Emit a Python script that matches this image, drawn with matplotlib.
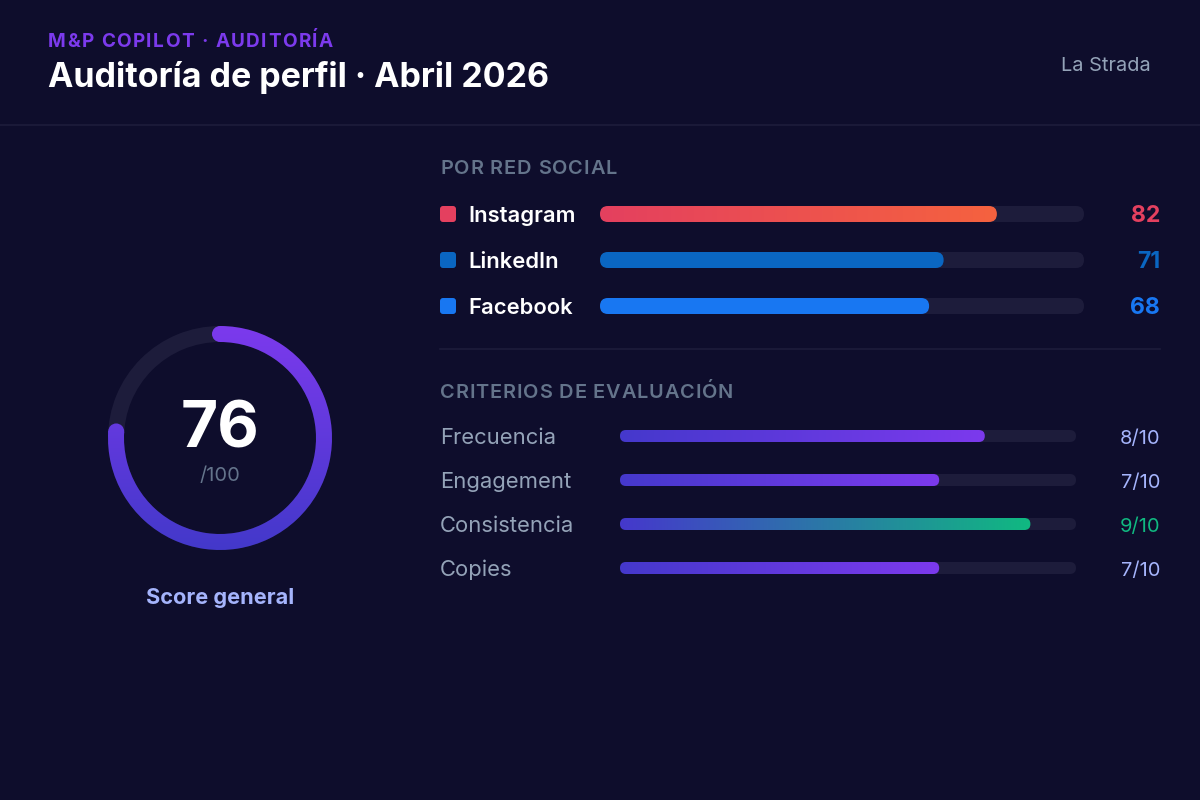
import numpy as np
import matplotlib
matplotlib.use("Agg")
import matplotlib.pyplot as plt
from matplotlib.patches import FancyBboxPatch, Wedge, Circle
from matplotlib.colors import LinearSegmentedColormap
from matplotlib.font_manager import FontProperties

# ---- data ----
score = 76
score_max = 100
networks = ["Instagram", "LinkedIn", "Facebook"]
network_scores = [82, 71, 68]
criteria = ["Frecuencia", "Engagement", "Consistencia", "Copies"]
criteria_scores = [8, 7, 9, 7]
criteria_max = 10

# ---- style ----
BG = "#0e0d2c"
TRACK = "#1d1c3b"
net_colors = ["#e4405f", "#0a66c2", "#1877f2"]
net_grad = [("#e4405f", "#f5623f"), None, None]
crit_grad = [("#4538cc", "#7c3aed"), ("#4538cc", "#7c3aed"),
             ("#4538cc", "#10b981"), ("#4538cc", "#7c3aed")]
crit_val_colors = ["#a5b4fc", "#a5b4fc", "#10b981", "#a5b4fc"]
FAMILY = ["Inter", "DejaVu Sans"]

plt.rcParams["font.family"] = FAMILY

fig = plt.figure(figsize=(12, 8), dpi=100)
fig.patch.set_facecolor(BG)
ax = fig.add_axes([0, 0, 1, 1])
ax.set_facecolor(BG)
ax.axis("off")
renderer = fig.canvas.get_renderer()

PT = 0.72  # px -> pt


def txt(x, base, s, px, color, weight="normal", ha="left"):
    # px = font em size in pixels, base = baseline y in pixels
    ax.text(x, base, s, fontsize=px * PT, color=color, fontweight=weight,
            ha=ha, va="baseline")


def width_of(s, prop):
    if not s.strip():
        return 0.0
    w, _, _ = renderer.get_text_width_height_descent(s, prop, ismath=False)
    return w


def spaced(x, base, s, px, color, weight, target):
    # draw text char by char so it spans `target` pixels (letter-spacing)
    prop = FontProperties(family=FAMILY, size=px * PT, weight=weight)
    natural = width_of(s, prop)
    sp = (target - natural) / (len(s) - 1)
    for k, c in enumerate(s):
        if c == " ":
            continue
        left = width_of(s[:k + 1], prop) - width_of(c, prop)
        ax.text(x + left + k * sp, base, c, fontproperties=prop, color=color,
                ha="left", va="baseline")


def grad_image(x0, x1, y0, y1, c0, c1, clip, vertical=False):
    cmap = LinearSegmentedColormap.from_list("g", [c0, c1])
    g = np.linspace(0, 1, 256)
    g = g.reshape(-1, 1) if vertical else g.reshape(1, -1)
    im = ax.imshow(g, cmap=cmap, extent=(x0, x1, y1, y0), origin="upper",
                   aspect="auto", interpolation="bilinear", zorder=3)
    im.set_clip_path(clip)


def bar(x0, yc, width, h, frac, color=None, grad=None):
    r = h / 2
    track = FancyBboxPatch((x0, yc - r), width, h,
                           boxstyle=f"round,pad=0,rounding_size={r}",
                           fc=TRACK, ec="none", zorder=2)
    ax.add_patch(track)
    fw = width * frac
    fill = FancyBboxPatch((x0, yc - r), fw, h,
                          boxstyle=f"round,pad=0,rounding_size={r}",
                          fc=color if color else "none", ec="none", zorder=3)
    ax.add_patch(fill)
    if grad is not None:
        grad_image(x0, x0 + fw, yc - r, yc + r, grad[0], grad[1], fill)


# ---- header ----
spaced(48, 47, "M&P COPILOT · AUDITORÍA", 19, "#7c3aed", "bold", 285)
txt(48, 87, "Auditoría de perfil · Abril 2026", 34, "white", "bold")
txt(1151, 71, "La Strada", 20, "#94a3b8", ha="right")
ax.plot([0, 1200], [125, 125], color="#1d1c3b", lw=1.2, zorder=1)

# ---- score ring ----
cx, cy, r_out, ring_w = 220, 438, 112, 16
ax.add_patch(Wedge((cx, cy), r_out, 0, 360, width=ring_w, fc=TRACK,
                   ec="none", zorder=2))
t1 = -90
t2 = -90 + 360 * score / score_max
arc = Wedge((cx, cy), r_out, t1, t2, width=ring_w, fc="none", ec="none",
            zorder=3)
ax.add_patch(arc)
rm = r_out - ring_w / 2
caps = []
for t in (t1, t2):
    c = Circle((cx + rm * np.cos(np.radians(t)), cy + rm * np.sin(np.radians(t))),
               ring_w / 2, fc="none", ec="none", zorder=3)
    ax.add_patch(c)
    caps.append(c)
for clip in [arc] + caps:
    grad_image(cx - r_out, cx + r_out, cy - r_out, cy + r_out,
               "#7c3aed", "#4338ca", clip, vertical=True)

txt(cx, 447, str(score), 64, "white", "bold", ha="center")
txt(cx, 481, f"/{score_max}", 20, "#64748b", ha="center")
txt(cx, 604, "Score general", 21.7, "#a5b4fc", "bold", ha="center")

# ---- por red social ----
spaced(440, 174, "POR RED SOCIAL", 20, "#64748b", "semibold", 177)
for i, (name, val) in enumerate(zip(networks, network_scores)):
    yc = 214 + i * 46
    ax.add_patch(FancyBboxPatch((440, yc - 8), 16, 16,
                                boxstyle="round,pad=0,rounding_size=3",
                                fc=net_colors[i], ec="none", zorder=3))
    txt(468, yc + 8, name, 22, "white", "semibold")
    bar(600, yc, 484, 16, val / 100,
        color=None if net_grad[i] else net_colors[i], grad=net_grad[i])
    txt(1160, yc + 8, str(val), 23, net_colors[i], "bold", ha="right")

ax.plot([440, 1160], [349, 349], color="#1d1c3b", lw=1.2, zorder=1)

# ---- criterios ----
spaced(440, 398, "CRITERIOS DE EVALUACIÓN", 20, "#64748b", "semibold", 293)
for i, (name, val) in enumerate(zip(criteria, criteria_scores)):
    yc = 436 + i * 44
    txt(440, yc + 8, name, 22, "#94a3b8")
    bar(620, yc, 456, 12, val / criteria_max, grad=crit_grad[i])
    txt(1160, yc + 8, f"{val}/{criteria_max}", 20, crit_val_colors[i],
        ha="right")

ax.set_xlim(0, 1200)
ax.set_ylim(800, 0)
fig.savefig("out.png", dpi=100, facecolor=BG)
